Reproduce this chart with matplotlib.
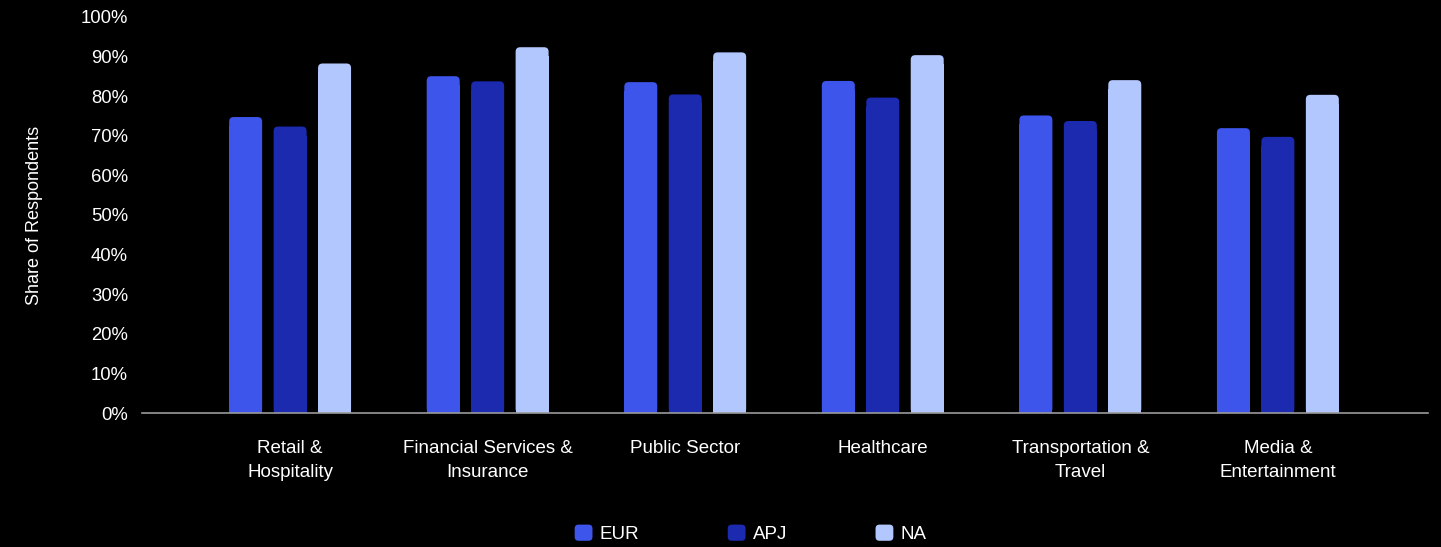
import numpy as np
import matplotlib.pyplot as plt
from matplotlib.patches import FancyBboxPatch, Rectangle, Patch
from matplotlib.legend_handler import HandlerPatch

categories = ["Retail &\nHospitality", "Financial Services &\nInsurance", "Public Sector",
              "Healthcare", "Transportation &\nTravel", "Media &\nEntertainment"]
eur = [74.7, 85.0, 83.5, 83.8, 75.1, 71.9]
apj = [72.3, 83.7, 80.4, 79.6, 73.7, 69.7]
na = [88.2, 92.3, 91.0, 90.3, 84.0, 80.3]
series = [("EUR", eur, "#3d55ea"), ("APJ", apj, "#1c2ab0"), ("NA", na, "#b3c7ff")]

plt.rcParams['font.family'] = ['Liberation Sans', 'DejaVu Sans']

fig = plt.figure(figsize=(14.41, 5.47), dpi=100, facecolor="black")
ax = fig.add_axes([0.0985, 0.2444, 0.8925, 0.7251], facecolor="black")

x = np.arange(len(categories))
width = 0.167
step = 0.225
ax.set_xlim(-0.75, 5.76)
ax.set_ylim(0, 100)

# px per data unit, used to keep the corner radius round
px_x = 1286 / (5.76 + 0.75)
px_y = 396.6 / 100
r = 4.5  # corner radius in px

for i, (name, vals, col) in enumerate(series):
    for xi, v in zip(x, vals):
        left = xi + (i - 1) * step - width / 2
        rx = r / px_x
        ry = r / px_y
        ax.add_patch(FancyBboxPatch((left, 0), width, v, boxstyle=f"round,pad=0,rounding_size={rx}",
                                    mutation_aspect=ry / rx, facecolor=col, edgecolor="none"))
        ax.add_patch(Rectangle((left, 0), width, v - 2 * ry, facecolor=col, edgecolor="none"))

for s in ["top", "right", "left"]:
    ax.spines[s].set_visible(False)
ax.spines["bottom"].set_color("#9a9a9a")
ax.spines["bottom"].set_linewidth(1.2)

ax.set_yticks(np.arange(0, 101, 10))
ax.set_yticklabels([f"{t}%" for t in range(0, 101, 10)])
ax.set_xticks(x)
ax.set_xticklabels(categories, linespacing=1.55)
ax.tick_params(axis="y", length=0, pad=10, labelsize=13.3, labelcolor="white")
ax.tick_params(axis="x", length=0, pad=19, labelsize=13.5, labelcolor="white")
ax.set_ylabel("Share of Respondents", color="white", fontsize=13, labelpad=27)


# rounded squares for the legend keys
class RoundKey(HandlerPatch):
    def create_artists(self, legend, orig, xd, yd, w, h, fontsize, trans):
        p = FancyBboxPatch((-xd, -yd), w, h, boxstyle=f"round,pad=0,rounding_size={w * 0.22}",
                           facecolor=orig.get_facecolor(), edgecolor="none", transform=trans)
        return [p]


handles = [Patch(facecolor=c, edgecolor="none", label=n) for n, _, c in series]
fig.legend(handles=handles, loc="center", bbox_to_anchor=(0.521, 0.024), ncol=3, frameon=False,
           fontsize=13.5, labelcolor="white", handlelength=0.95, handleheight=0.95,
           handletextpad=0.4, columnspacing=4.7,
           handler_map={Patch: RoundKey()})

fig.savefig("out.png", dpi=100, facecolor="black")
